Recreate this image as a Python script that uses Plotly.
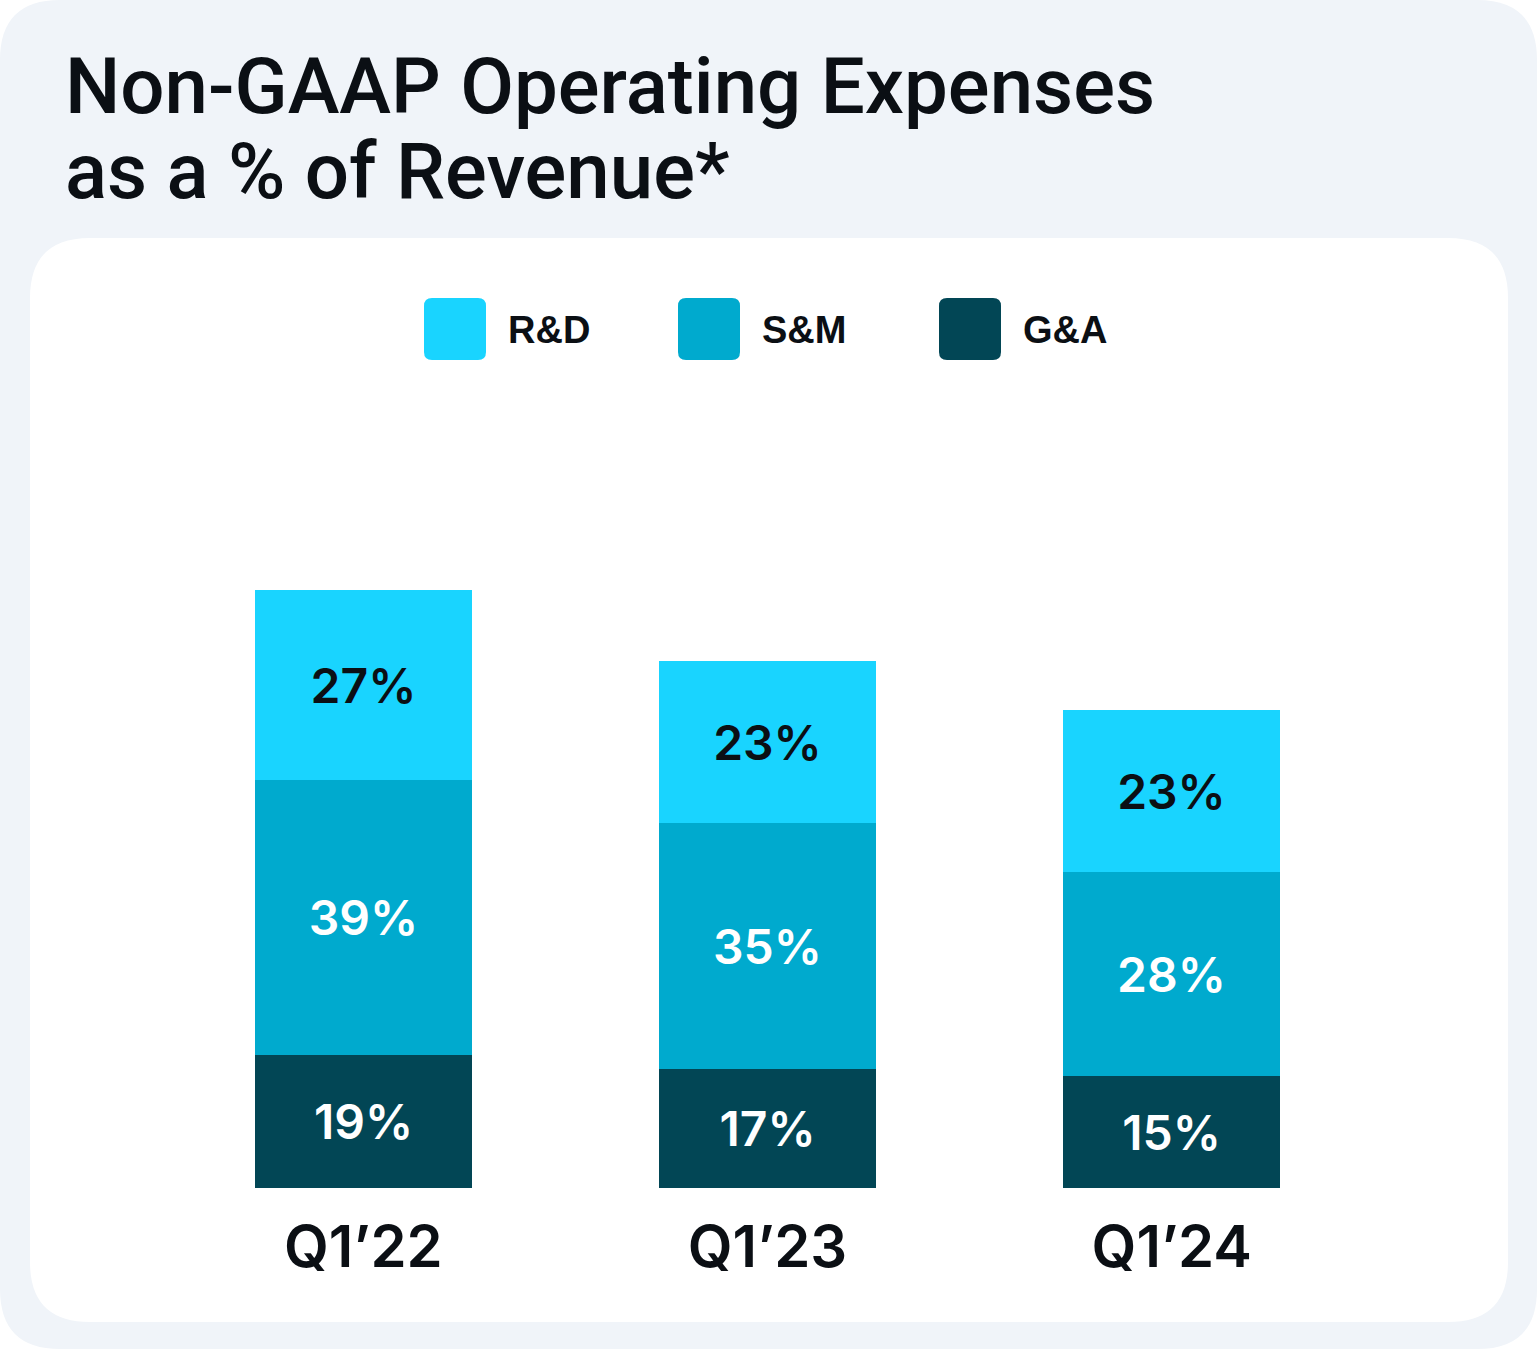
import plotly.graph_objects as go

categories = ["Q1’22", "Q1’23", "Q1’24"]
series_names = ["G&A", "S&M", "R&D"]
ga_values = [18.9, 16.9, 15.9]
sm_values = [39.1, 35.0, 29.0]
rd_values = [27.0, 23.0, 23.0]
ga_labels = ["19%", "17%", "15%"]
sm_labels = ["39%", "35%", "28%"]
rd_labels = ["27%", "23%", "23%"]

W, H = 1537, 1349
L, R, T, B = 40, 42, 400, 161
PW, PH = W - L - R, H - T - B

def px(x):
    return (x - L) / PW

def py(y):
    return (H - B - y) / PH

def rrect(x0, y0, x1, y1, r):
    rx, ry = r / PW, r / PH
    X0, X1 = px(x0), px(x1)
    Y0, Y1 = py(y0), py(y1)
    return (f"M {X0+rx},{Y0} L {X1-rx},{Y0} Q {X1},{Y0} {X1},{Y0-ry} "
            f"L {X1},{Y1+ry} Q {X1},{Y1} {X1-rx},{Y1} "
            f"L {X0+rx},{Y1} Q {X0},{Y1} {X0},{Y1+ry} "
            f"L {X0},{Y0-ry} Q {X0},{Y0} {X0+rx},{Y0} Z")

C_RD, C_SM, C_GA = "#19D4FF", "#00AACE", "#024655"
DARK = "#0B0F14"
FONT = "Inter"

fig = go.Figure()
for name, vals, labs, col, tcol in [
    ("G&A", ga_values, ga_labels, C_GA, "white"),
    ("S&M", sm_values, sm_labels, C_SM, "white"),
    ("R&D", rd_values, rd_labels, C_RD, DARK),
]:
    fig.add_trace(go.Bar(
        x=categories, y=vals, name=name, text=labs,
        textposition="inside", insidetextanchor="middle",
        textfont=dict(family=FONT, size=48, color=tcol, weight=600),
        marker=dict(color=col, line=dict(width=0)),
        width=0.537, showlegend=False, hoverinfo="skip",
        cliponaxis=False,
    ))

shapes = [
    dict(type="path", xref="paper", yref="paper", path=rrect(0, 0, W, H, 60),
         fillcolor="#F0F4F9", line=dict(width=0), layer="below"),
    dict(type="path", xref="paper", yref="paper", path=rrect(30, 238, 1508, 1322, 60),
         fillcolor="white", line=dict(width=0), layer="below"),
]
annotations = []
legend_items = [("R&D", C_RD, 424), ("S&M", C_SM, 678), ("G&A", C_GA, 939)]
for lab, col, x0 in legend_items:
    shapes.append(dict(type="path", xref="paper", yref="paper",
                       path=rrect(x0, 298, x0 + 62, 360, 8),
                       fillcolor=col, line=dict(width=0), layer="below"))
    annotations.append(dict(text=lab, xref="paper", yref="paper",
                            x=px(x0 + 82), y=py(330), xanchor="left", yanchor="middle",
                            showarrow=False,
                            font=dict(family="Liberation Sans", size=38, color=DARK,
                                      weight="bold")))

for txt, yc in [("Non-GAAP Operating Expenses", 87), ("as a % of Revenue*", 171)]:
    annotations.append(dict(text=txt, xref="paper", yref="paper",
                            x=px(63), y=py(yc), xanchor="left", yanchor="middle",
                            showarrow=False,
                            font=dict(family="Roboto", size=78, color=DARK, weight=500)))

fig.update_layout(
    width=W, height=H, barmode="stack",
    margin=dict(l=L, r=R, t=T, b=B, pad=0),
    paper_bgcolor="white", plot_bgcolor="rgba(0,0,0,0)",
    shapes=shapes, annotations=annotations,
    xaxis=dict(range=[-0.8, 2.8], showgrid=False, zeroline=False, showline=False,
               ticks="", tickfont=dict(family=FONT, size=58, color=DARK, weight=600),
               ticklabelstandoff=20, fixedrange=True),
    yaxis=dict(range=[0, PH / 7.035], visible=False, fixedrange=True),
    bargap=0,
)
fig.write_html("out.html", config={"displayModeBar": False},
               post_script="document.body.style.margin='0';document.body.style.overflow='hidden';")
